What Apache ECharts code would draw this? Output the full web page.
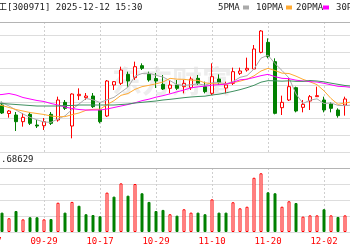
<!DOCTYPE html>
<html><head><meta charset="utf-8">
<script src="https://cdn.jsdelivr.net/npm/echarts@6/dist/echarts.min.js"></script>
<style>html,body{margin:0;padding:0;background:#fff}#c{width:350px;height:250px}</style>
</head><body><div id="c"></div>
<script>
const dates = ['09-17','09-18','09-19','09-22','09-23','09-24','09-25','09-26','09-29','09-30','10-09','10-10','10-13','10-14','10-15','10-16','10-17','10-20','10-21','10-22','10-23','10-24','10-27','10-28','10-29','10-30','10-31','11-03','11-04','11-05','11-06','11-07','11-10','11-11','11-12','11-13','11-14','11-17','11-18','11-19','11-20','11-21','11-24','11-25','11-26','11-27','11-28','12-01','12-02','12-03','12-04','12-05','12-08','12-09','12-10','12-11','12-12'];
const opens = [null,null,
42.82,42.31,42.22,41.82,42.26,41.62,41.58,42.26,41.92,42.98,
41.56,43.38,43.26,43.36,42.52,42.16,44.02,44.12,44.66,44.46,
45.18,44.66,44.41,44.06,43.82,44.02,43.92,43.86,44.42,43.92,
43.52,44.38,43.84,44.12,44.72,44.92,44.98,45.98,46.58,45.42,
42.66,43.12,43.86,42.68,43.06,43.32,43.12,42.88,42.52,42.82,
43.12,null,null,null,null];
const closes = [null,null,
42.34,42.46,41.82,42.08,41.72,41.56,41.82,41.72,43.12,42.62,
43.48,43.46,43.36,42.72,41.82,44.26,44.22,44.92,44.26,45.12,
45.02,44.32,44.26,43.78,44.02,43.82,44.12,44.38,44.12,43.62,
44.52,44.18,44.02,44.82,44.86,45.02,46.18,47.26,45.72,42.32,
42.98,43.92,42.46,42.86,43.32,43.38,42.52,42.62,42.18,43.18,
43.60,null,null,null,null];
const lows = [null,null,
42.28,42.06,41.26,41.52,41.62,41.44,41.32,41.62,41.82,42.52,
40.82,43.12,43.12,42.64,41.72,42.10,43.72,44.02,43.92,44.32,
44.92,44.22,43.84,43.72,43.52,43.72,43.52,43.72,44.02,43.52,
43.42,44.02,43.52,44.02,44.62,44.82,44.92,45.92,45.62,42.26,
42.22,43.06,42.38,42.38,42.52,43.30,42.38,42.38,42.06,42.18,
43.06,null,null,null,null];
const highs = [null,null,
43.02,42.52,42.40,42.34,42.40,41.92,42.04,42.40,43.32,43.12,
43.52,43.82,43.54,43.54,42.94,44.32,44.26,45.12,44.82,45.42,
45.32,44.82,44.74,44.62,44.32,44.32,44.32,44.52,44.62,44.22,
45.32,44.66,44.22,45.06,45.06,45.66,46.42,47.32,46.82,45.62,
43.38,44.42,43.92,43.12,43.42,43.92,43.32,42.98,42.62,43.32,
43.72,null,null,null,null];
const volumes = [null,null,
1.21,0.86,1.31,0.79,0.92,0.92,0.79,0.81,1.83,1.21,
1.88,1.64,1.11,1.06,0.98,2.46,2.21,3.04,2.27,3.00,
2.42,1.88,1.31,1.38,1.11,1.02,1.42,1.21,1.21,1.11,
2.04,1.21,1.21,1.86,1.48,1.58,3.39,3.67,2.48,2.42,
1.58,1.92,1.81,0.96,1.04,1.04,1.42,1.04,0.94,1.04,
1.21,null,null,null,null];
const ma5 = [null,43.06,
42.97,42.76,42.52,42.28,42.08,41.93,41.80,41.78,41.99,42.17,
42.55,42.88,43.21,43.13,42.97,43.13,43.28,43.59,43.89,44.55,
44.71,44.73,44.60,44.50,44.28,44.04,44.00,44.03,44.09,44.01,
44.15,44.16,44.09,44.23,44.48,44.58,44.98,45.63,45.81,45.30,
44.89,44.44,43.48,42.91,43.11,43.19,42.91,42.94,42.80,42.78,
42.82,null,null,null,null];
const ma10 = [null,42.85,
42.79,42.67,42.55,42.46,42.37,42.31,42.25,42.16,42.12,42.12,
42.24,42.34,42.50,42.56,42.57,42.84,43.08,43.40,43.51,43.76,
43.92,44.00,44.09,44.20,44.42,44.37,44.36,44.31,44.30,44.15,
44.10,44.08,44.06,44.16,44.25,44.37,44.57,44.86,45.02,44.89,
44.73,44.71,44.55,44.36,44.21,44.04,43.67,43.21,42.86,42.94,
43.01,null,null,null,null];
const ma20 = [null,43.42,
43.45,43.51,43.42,43.27,43.18,43.09,43.03,42.91,42.82,42.70,
42.61,42.55,42.52,42.52,42.52,42.58,42.67,42.76,42.85,42.95,
43.08,43.17,43.29,43.38,43.49,43.61,43.72,43.85,43.91,43.95,
44.01,44.04,44.07,44.18,44.33,44.37,44.47,44.58,44.66,44.52,
44.42,44.40,44.31,44.26,44.22,44.20,44.12,44.03,43.94,43.92,
43.87,null,null,null,null];
const ma30 = [null,42.92,
42.91,42.88,42.85,42.82,42.79,42.76,42.76,42.76,42.76,42.79,
42.79,42.82,42.82,42.82,42.82,42.82,42.82,42.85,42.88,42.94,
42.98,43.02,43.06,43.12,43.16,43.21,43.26,43.30,43.33,43.35,
43.42,43.47,43.55,43.64,43.74,43.86,44.00,44.19,44.28,44.27,
44.25,44.27,44.24,44.24,44.29,44.26,44.21,44.13,44.06,43.99,
43.95,null,null,null,null];
const titleText = '博亚精工[300971] 2025-12-12 15:30';
const legendNames = ['5PMA','10PMA','20PMA','30PMA'];
const volLabel = '.68629';

const RED = '#ff0000', GREEN = '#008000';
const MONO = '"DejaVu Sans Mono", "Noto Sans CJK SC", monospace';
const maColors = ['#aaaaaa', '#ffaa33', '#ff00ff', '#3f9060'];

const candleData = dates.map((d, i) => opens[i] == null ? ['-','-','-','-'] : [opens[i], closes[i], lows[i], highs[i]]);
const volData = dates.map((d, i) => {
  if (volumes[i] == null) return '-';
  let prev = null;
  for (let k = i - 1; k >= 0; k--) { if (closes[k] != null) { prev = closes[k]; break; } }
  const up = prev == null ? closes[i] >= opens[i] : closes[i] >= prev;
  return { value: volumes[i], itemStyle: up ? { color: '#fff', borderColor: RED, borderWidth: 1 } : { color: GREEN, borderColor: GREEN, borderWidth: 1 } };
});
const toLine = arr => arr.map(v => v == null ? '-' : v);

const chart = echarts.init(document.getElementById('c'), null, { renderer: 'canvas' });
const hiddenAxis = { show: false };
const legendPos = [218, 256, 296, 336];
const markerPos = [243, 286, 323, 380];
const graphics = [
  { type: 'text', x: -29, y: 7.5, z: 10, style: { text: titleText, font: '9px ' + MONO, fill: '#222', verticalAlign: 'middle' } },
  { type: 'line', z: 10, shape: { x1: 0, y1: 22.5, x2: 350, y2: 22.5 }, style: { stroke: '#b4b4b4', lineWidth: 1 } },
  { type: 'line', z: 10, shape: { x1: 0, y1: 168.5, x2: 350, y2: 168.5 }, style: { stroke: '#b4b4b4', lineWidth: 1 } },
  { type: 'text', x: 1, y: 160, z: 10, style: { text: volLabel, font: '9px ' + MONO, fill: '#222', verticalAlign: 'middle' } },
  { type: 'text', x: 112, y: 81, z: 0, style: { text: '东方财富', font: 'bold 30px "Noto Sans CJK SC"', fill: '#ededed', verticalAlign: 'middle' } }
];
legendNames.forEach((n, k) => {
  graphics.push({ type: 'text', x: legendPos[k], y: 7.5, z: 10, style: { text: n, font: '9px ' + MONO, fill: '#222', verticalAlign: 'middle' } });
  graphics.push({ type: 'rect', z: 10, shape: { x: markerPos[k], y: 5.5, width: 6, height: 4 }, style: { fill: maColors[k] } });
});

chart.setOption({
  animation: false,
  backgroundColor: '#fff',
  graphic: graphics,
  grid: [
    { left: -12, right: -30, top: 22, height: 130, outerBoundsMode: 'none', containLabel: false },
    { left: -12, right: -30, top: 168, height: 64, outerBoundsMode: 'none', containLabel: false }
  ],
  xAxis: [
    { type: 'category', gridIndex: 0, data: dates, boundaryGap: false,
      axisLine: hiddenAxis, axisTick: hiddenAxis, axisLabel: hiddenAxis,
      splitLine: { show: true, interval: 7, lineStyle: { color: '#cfcfcf', type: [2, 2], width: 1 } } },
    { type: 'category', gridIndex: 1, data: dates, boundaryGap: false,
      axisLine: hiddenAxis, axisTick: hiddenAxis,
      axisLabel: { show: true, interval: 7, color: RED, fontSize: 9, fontFamily: MONO, margin: 5, hideOverlap: false },
      splitLine: { show: true, interval: 7, lineStyle: { color: '#cfcfcf', type: [2, 2], width: 1 } } }
  ],
  yAxis: [
    { type: 'value', gridIndex: 0, min: 40, max: 47.8, interval: 1,
      axisLine: hiddenAxis, axisTick: hiddenAxis, axisLabel: hiddenAxis,
      splitLine: { show: true, lineStyle: { color: '#dddddd', width: 1 } } },
    { type: 'value', gridIndex: 1, min: 0, max: 4, interval: 1,
      axisLine: hiddenAxis, axisTick: hiddenAxis, axisLabel: hiddenAxis,
      splitLine: { show: true, lineStyle: { color: '#dddddd', width: 1 } } }
  ],
  series: [
    { type: 'candlestick', xAxisIndex: 0, yAxisIndex: 0, data: candleData, barWidth: 4,
      itemStyle: { color: '#ffffff', color0: GREEN, borderColor: RED, borderColor0: GREEN, borderWidth: 1 } },
    { type: 'line', xAxisIndex: 0, yAxisIndex: 0, data: toLine(ma5), symbol: 'none', lineStyle: { width: 1, color: maColors[0] } },
    { type: 'line', xAxisIndex: 0, yAxisIndex: 0, data: toLine(ma10), symbol: 'none', lineStyle: { width: 1, color: maColors[1] } },
    { type: 'line', xAxisIndex: 0, yAxisIndex: 0, data: toLine(ma20), symbol: 'none', lineStyle: { width: 1, color: maColors[2] } },
    { type: 'line', xAxisIndex: 0, yAxisIndex: 0, data: toLine(ma30), symbol: 'none', lineStyle: { width: 1, color: maColors[3] } },
    { type: 'bar', xAxisIndex: 1, yAxisIndex: 1, data: volData, barWidth: 3 }
  ]
});
</script>
</body></html>
